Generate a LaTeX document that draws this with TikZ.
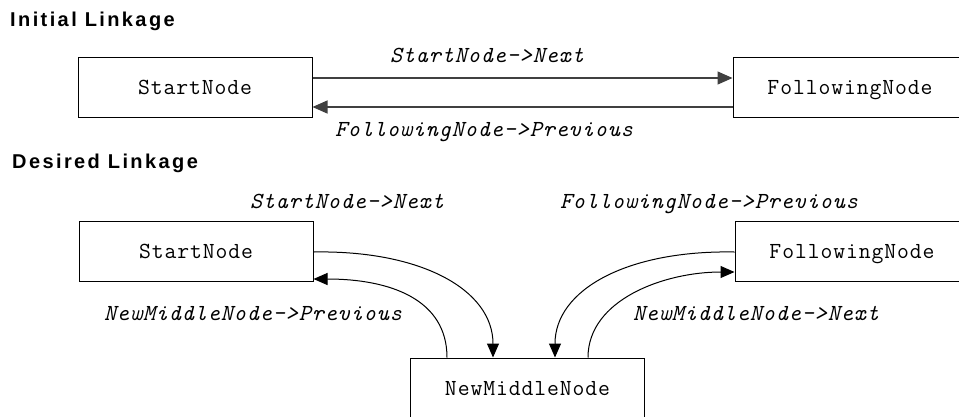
\documentclass[tikz,border=0pt]{standalone}
\usepackage{fontspec}
\newfontfamily\boxfont[LetterSpace=4]{Latin Modern Mono}
\newfontfamily\titlefont[LetterSpace=12]{Liberation Sans Bold}
\usetikzlibrary{arrows.meta}
\tikzset{
  box/.style={draw, line width=1pt, minimum width=234pt, minimum height=60pt, inner sep=0pt,
    text height=14pt, text depth=0pt, font=\fontsize{23}{23}\selectfont\boxfont},
  lbl/.style={anchor=base, inner sep=0pt, font=\fontsize{23}{23}\selectfont\boxfont\itshape},
  ttl/.style={anchor=base west, inner sep=0pt, font=\fontsize{20}{20}\selectfont\titlefont},
  arr/.style={line width=1pt, -{Triangle[length=14pt,width=12pt]}},
  arrs/.style={line width=1.3pt, draw=black!75, -{Triangle[length=15pt,width=13pt]}}
}
\begin{document}
\begin{tikzpicture}[x=1pt,y=-1pt]
\useasboundingbox (0,0) rectangle (959,416);
\clip (0,0) rectangle (959,416);
\fill[white] (0,0) rectangle (959,416);
% titles
\node[ttl] (t1) at (10,26) {Initial Linkage};
\node[ttl] (t2) at (12,168) {Desired Linkage};
% initial linkage
\node[box] (s1) at (195,87) {StartNode};
\node[box] (f1) at (850,87) {FollowingNode};
\draw[arrs] ([yshift=9pt]s1.east) -- ([yshift=9pt]f1.west);
\draw[arrs] ([yshift=-20pt]f1.west) -- ([yshift=-20pt]s1.east);
\node[lbl] (l1) at (487,62) {StartNode->Next};
\node[lbl] (l2) at (484,136) {FollowingNode->Previous};
% desired linkage
\node[box] (s2) at (196,251) {StartNode};
\node[box] (f2) at (852,251) {FollowingNode};
\node[box] (m) at (527.5,388) {NewMiddleNode};
\draw[arr] ([yshift=-1pt]s2.east) .. controls +(107,-2) and +(0,-68) .. ([xshift=-34.5pt]m.north);
\draw[arr] ([xshift=-80.5pt]m.north) .. controls +(0,-58) and +(77,0) .. ([yshift=-28pt]s2.east);
\draw[arr] ([yshift=-1pt]f2.west) .. controls +(-107,-2) and +(0,-68) .. ([xshift=27.5pt]m.north);
\draw[arr] ([xshift=60.5pt]m.north) .. controls +(0,-58) and +(-70,0) .. ([yshift=-21pt]f2.west);
\node[lbl] (l3) at (347,208) {StartNode->Next};
\node[lbl] (l4) at (709,208) {FollowingNode->Previous};
\node[lbl] (l5) at (253,320) {NewMiddleNode->Previous};
\node[lbl] (l6) at (756,320) {NewMiddleNode->Next};
\end{tikzpicture}
\end{document}
